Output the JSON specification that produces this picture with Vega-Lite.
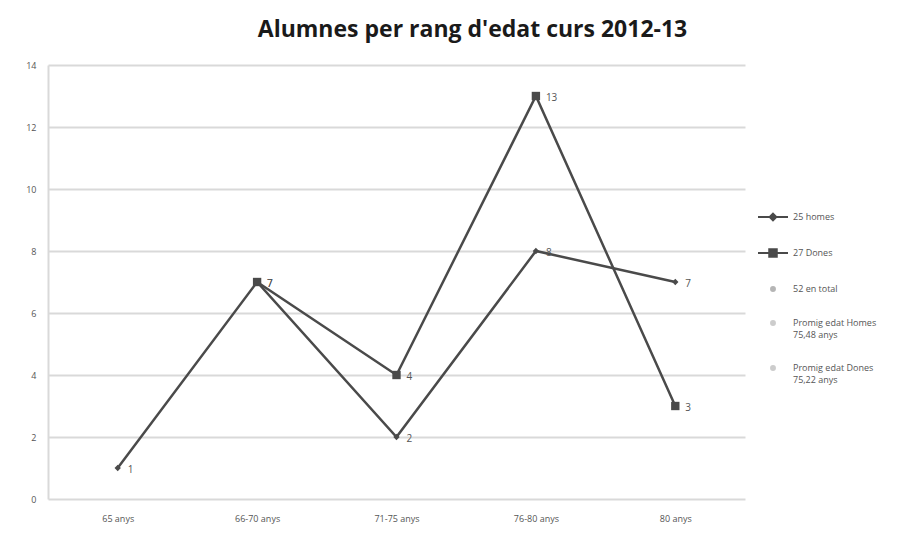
{
  "$schema": "https://vega.github.io/schema/vega-lite/v6.json",
  "width": 697,
  "height": 434,
  "autosize": {"type": "none"},
  "padding": {"left": 48, "top": 65, "right": 178, "bottom": 42},
  "background": "white",
  "title": {
    "text": "Alumnes per rang d'edat curs 2012-13",
    "font": "Open Sans",
    "fontSize": 23,
    "fontWeight": "bold",
    "color": "#1a1a1a",
    "anchor": "middle",
    "frame": "group",
    "dx": 76,
    "offset": 19
  },
  "data": {
    "values": [
      {"cat": "65 anys", "serie": "25 homes", "value": 1},
      {"cat": "66-70 anys", "serie": "25 homes", "value": 7},
      {"cat": "71-75 anys", "serie": "25 homes", "value": 2},
      {"cat": "76-80 anys", "serie": "25 homes", "value": 8},
      {"cat": "80 anys", "serie": "25 homes", "value": 7},
      {"cat": "66-70 anys", "serie": "27 Dones", "value": 7},
      {"cat": "71-75 anys", "serie": "27 Dones", "value": 4},
      {"cat": "76-80 anys", "serie": "27 Dones", "value": 13},
      {"cat": "80 anys", "serie": "27 Dones", "value": 3}
    ]
  },
  "config": {
    "view": {"stroke": null},
    "font": "Open Sans"
  },
  "encoding": {
    "x": {
      "field": "cat",
      "type": "ordinal",
      "sort": ["65 anys", "66-70 anys", "71-75 anys", "76-80 anys", "80 anys"],
      "scale": {"type": "point", "padding": 0.5},
      "axis": {
        "title": null,
        "labelAngle": 0,
        "labelFontSize": 9,
        "labelColor": "#555555",
        "labelPadding": 15,
        "domain": false,
        "ticks": false,
        "grid": false
      }
    },
    "y": {
      "field": "value",
      "type": "quantitative",
      "scale": {"domain": [0, 14]},
      "axis": {
        "title": null,
        "values": [0, 2, 4, 6, 8, 10, 12, 14],
        "labelFontSize": 9,
        "labelColor": "#555555",
        "labelPadding": 12,
        "ticks": false,
        "domain": true,
        "domainColor": "#d9d9d9",
        "domainWidth": 2,
        "gridColor": "#d9d9d9",
        "gridWidth": 2
      }
    }
  },
  "layer": [
    {
      "mark": {"type": "line", "strokeWidth": 2.5},
      "encoding": {
        "color": {
          "field": "serie",
          "type": "nominal",
          "scale": {
            "domain": ["25 homes", "27 Dones", "52 en total", "Promig edat Homes|75,48 anys", "Promig edat Dones|75,22 anys"],
            "range": ["#4a4a4a", "#4a4a4a", "#b5b5b5", "#cccccc", "#cccccc"]
          },
          "legend": {
            "title": null,
            "orient": "none",
            "legendX": 709,
            "legendY": 136,
            "labelFontSize": 9,
            "labelColor": "#555555",
            "labelOffset": 4,
            "labelExpr": "split(datum.label, '|')",
            "rowPadding": 12,
            "symbolSize": 900,
            "symbolStrokeWidth": 2,
            "encode": {
              "labels": {"update": {"lineHeight": {"value": 12}}},
              "symbols": {
                "update": {
                  "shape": {"signal": "datum.value == '25 homes' ? 'M-1,0H1M0,-0.22L0.22,0L0,0.22L-0.22,0Z' : datum.value == '27 Dones' ? 'M-1,0H1M-0.25,-0.25H0.25V0.25H-0.25Z' : 'M0.13,0A0.13,0.13,0,1,1,-0.13,0A0.13,0.13,0,1,1,0.13,0Z'"},
                  "fill": {"signal": "datum.value == '25 homes' || datum.value == '27 Dones' ? '#4a4a4a' : '#bbbbbb'"},
                  "stroke": {"signal": "datum.value == '25 homes' || datum.value == '27 Dones' ? '#4a4a4a' : '#bbbbbb'"},
                  "strokeWidth": {"value": 2}
                }
              }
            }
          }
        }
      }
    },
    {
      "mark": {"type": "point", "filled": true, "opacity": 1},
      "encoding": {
        "color": {"field": "serie", "type": "nominal"},
        "shape": {
          "field": "serie",
          "type": "nominal",
          "scale": {
            "domain": ["25 homes", "27 Dones"],
            "range": ["diamond", "square"]
          },
          "legend": null
        },
        "size": {
          "field": "serie",
          "type": "nominal",
          "scale": {
            "domain": ["25 homes", "27 Dones"],
            "range": [40, 70]
          },
          "legend": null
        }
      }
    },
    {
      "mark": {"type": "text", "align": "left", "dx": 10, "dy": 2, "fontSize": 10, "color": "#555555"},
      "encoding": {
        "text": {"field": "value", "type": "quantitative"}
      }
    }
  ]
}
